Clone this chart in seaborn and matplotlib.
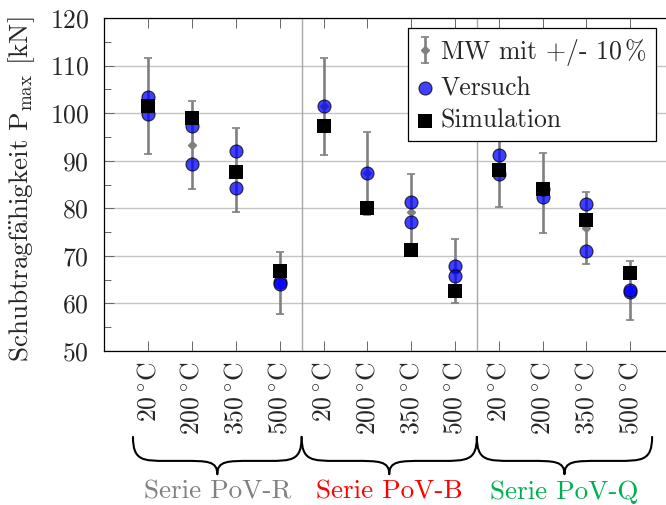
import numpy as np
import pandas as pd
import matplotlib
matplotlib.use("Agg")
import matplotlib.pyplot as plt
import seaborn as sns
from matplotlib.path import Path
from matplotlib.patches import PathPatch
from matplotlib.transforms import blended_transform_factory
from matplotlib.ticker import MultipleLocator

# ---- data -------------------------------------------------------------
temperatures = [r"20$\,^{\circ}$C", r"200$\,^{\circ}$C",
                r"350$\,^{\circ}$C", r"500$\,^{\circ}$C"]
series_names = ["Serie PoV-R", "Serie PoV-B", "Serie PoV-Q"]
series_colors = ["#808080", "#ff0000", "#00b050"]

# mean value (MW) of the tests per series/temperature
mw = [101.5, 93.3, 88.1, 64.3,
      101.4, 87.4, 79.2, 66.8,
      89.2, 83.2, 75.9, 62.7]

# individual test results (Versuch)
versuch = [[103.3, 99.8], [97.4, 89.3], [92.0, 84.3], [64.4, 64.1],
           [101.4], [87.5], [81.3, 77.2], [67.9, 65.8],
           [91.1, 87.3], [82.4, 84.0], [81.0, 71.0], [62.4, 62.9]]

# simulation results
simulation = [101.5, 99.0, 87.6, 66.8,
              97.3, 80.1, 71.2, 62.7,
              88.0, 84.1, 77.6, 66.4]

# ---- tables -----------------------------------------------------------
positions = np.arange(len(mw))
df_versuch = pd.DataFrame(
    [(i, v) for i, vals in enumerate(versuch) for v in vals],
    columns=["pos", "kN"])
df_sim = pd.DataFrame({"pos": positions, "kN": simulation})

# ---- style ------------------------------------------------------------
sns.set_theme(style="white")
plt.rcParams["font.family"] = ["cmr10", "DejaVu Serif"]
plt.rcParams["mathtext.fontset"] = "cm"
plt.rcParams["axes.formatter.use_mathtext"] = True
plt.rcParams["axes.unicode_minus"] = False
FS = 18.5
FS_LABEL = 19.5

fig = plt.figure(figsize=(6.66, 5.05), dpi=100)
ax = fig.add_axes([104.5 / 666, 1 - 351 / 505, (674 - 104.5) / 666, 333 / 505])

# error bars: MW +/- 10 %
mw_arr = np.array(mw)
eb = ax.errorbar(positions, mw_arr, yerr=0.1 * mw_arr, fmt="D",
                 color="#808080", ms=4.5, elinewidth=1.9, capsize=3.2,
                 capthick=1.2, zorder=3, label="MW mit +/- 10$\\,$%")

sns.scatterplot(data=df_versuch, x="pos", y="kN", ax=ax, color=(0, 0, 1),
                alpha=0.75, s=88, edgecolor="black", linewidth=0.8,
                zorder=4, label="Versuch")
sns.scatterplot(data=df_sim, x="pos", y="kN", ax=ax, marker="s",
                color="black", s=92, linewidth=0, zorder=5,
                label="Simulation")

# ---- axes -------------------------------------------------------------
ax.set_xlim(-1, 12)
ax.set_ylim(50, 120)
ax.set_yticks(np.arange(50, 121, 10))
ax.yaxis.set_minor_locator(MultipleLocator(5))
ax.set_xticks(positions)
ax.set_xticklabels(temperatures * len(series_names), rotation=90, fontsize=FS)
ax.tick_params(axis="y", labelsize=FS)
ax.set_xlabel("")
ax.grid(axis="y", which="major", color="#c4c4c4", lw=1.0, zorder=0)
for sep in (3.5, 7.5):
    ax.axvline(sep, color="#a8a8a8", lw=1.0, zorder=1)

ax.tick_params(axis="x", which="major", direction="in", top=True,
               bottom=True, length=7, width=0.7, color="#666666", pad=8)
ax.tick_params(axis="y", which="major", direction="in", left=True,
               right=False, length=7, width=0.7, color="#666666", pad=11)
ax.tick_params(axis="y", which="minor", direction="in", left=True,
               right=False, length=5, width=0.7, color="#666666")
for sp in ax.spines.values():
    sp.set_color("black")
    sp.set_linewidth(0.9)

ax.set_ylabel(r"Schubtragf$\mathrm{\ddot{a}}$higkeit P$_{\mathrm{max}}$ [kN]",
              fontsize=FS_LABEL)
ax.yaxis.set_label_coords(-0.118, 0.485)

# ---- legend (MW first, then Versuch, then Simulation) -----------------
handles, labels = ax.get_legend_handles_labels()
order = [labels.index(l) for l in
         ("MW mit +/- 10$\\,$%", "Versuch", "Simulation")]
leg = ax.legend([handles[i] for i in order], [labels[i] for i in order],
                loc="upper right", bbox_to_anchor=(0.9684, 0.970),
                borderaxespad=0, frameon=True, fancybox=False,
                framealpha=1, edgecolor="black", fontsize=FS,
                handlelength=0.6, handletextpad=0.3, borderpad=0.35,
                labelspacing=0.33)
leg.get_frame().set_linewidth(0.9)
leg.set_zorder(10)

# ---- series braces and names below the tick labels -------------------
trans = blended_transform_factory(ax.transData, ax.transAxes)
y_top, y_mid, y_tip = -0.258, -0.33, -0.37
brace_spans = [(-0.35, 3.5), (3.5, 7.5), (7.5, 11.5)]


def brace(x0, x1):
    xm = 0.5 * (x0 + x1)
    r = 0.2 * (x1 - x0)
    verts = [(x0, y_top),
             (x0, y_mid), (x0 + 0.3 * r, y_mid), (x0 + r, y_mid),
             (xm - r, y_mid),
             (xm - 0.3 * r, y_mid), (xm, y_mid), (xm, y_tip),
             (xm, y_mid), (xm + 0.3 * r, y_mid), (xm + r, y_mid),
             (x1 - r, y_mid),
             (x1 - 0.3 * r, y_mid), (x1, y_mid), (x1, y_top)]
    codes = ([Path.MOVETO] + [Path.CURVE4] * 3 + [Path.LINETO]
             + [Path.CURVE4] * 6 + [Path.LINETO] + [Path.CURVE4] * 3)
    return PathPatch(Path(verts, codes), transform=trans, fill=False,
                     lw=1.5, color="black", clip_on=False,
                     capstyle="round", joinstyle="round")


for (x0, x1), name, col in zip(brace_spans, series_names, series_colors):
    ax.add_patch(brace(x0, x1))
    ax.text(0.5 * (x0 + x1), -0.423, name, transform=trans, ha="center",
            va="center", color=col, fontsize=FS_LABEL, clip_on=False)

fig.savefig("out.png", dpi=100)
